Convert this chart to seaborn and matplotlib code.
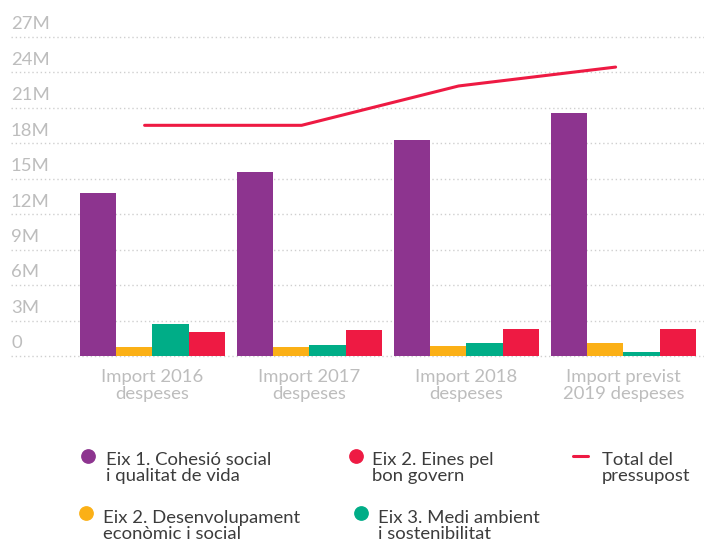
import numpy as np
import pandas as pd
import matplotlib
matplotlib.use("Agg")
import matplotlib.pyplot as plt
from matplotlib.lines import Line2D
import seaborn as sns

# ---- data ----
categories = ["Import 2016\ndespeses", "Import 2017\ndespeses",
              "Import 2018\ndespeses", "Import previst\n2019 despeses"]
series_names = ["Eix 1. Cohesió social\ni qualitat de vida",
                "Eix 2. Desenvolupament\neconòmic i social",
                "Eix 3. Medi ambient\ni sostenibilitat",
                "Eix 2. Eines pel\nbon govern"]
eix1_cohesio = [13.8e6, 15.55e6, 18.25e6, 20.55e6]
eix2_desenvolupament = [0.74e6, 0.74e6, 0.82e6, 1.07e6]
eix3_medi = [2.7e6, 0.9e6, 1.07e6, 0.31e6]
eix2_eines = [2.0e6, 2.18e6, 2.26e6, 2.26e6]
total_label = "Total del\npressupost"
total_pressupost = [19.52e6, 19.52e6, 22.85e6, 24.45e6]
ytick_values = [0, 3e6, 6e6, 9e6, 12e6, 15e6, 18e6, 21e6, 24e6, 27e6]
ytick_labels = ["0", "3M", "6M", "9M", "12M", "15M", "18M", "21M", "24M", "27M"]

colors = ["#8D348F", "#FBB016", "#00AD87", "#EE1A43"]
line_color = "#EE1A43"
FS = 13.3

df = pd.DataFrame({
    "cat": np.repeat(categories, 4),
    "serie": series_names * 4,
    "value": np.array([eix1_cohesio, eix2_desenvolupament, eix3_medi, eix2_eines]).T.ravel(),
})

sns.set_theme(style="white")
plt.rcParams["font.family"] = ["Lato", "DejaVu Sans"]

W, H = 704, 543
fig = plt.figure(figsize=(W / 100, H / 100), dpi=100)
ax = fig.add_axes([11 / W, 1 - 359.5 / H, 1 - 11 / W, (359.5 - 33.4) / H])

sns.barplot(data=df, x="cat", y="value", hue="serie", hue_order=series_names,
            order=categories, palette=colors, width=0.925, gap=0, ax=ax,
            saturation=1, legend=False, edgecolor="none", linewidth=0, errorbar=None)

xpos = np.arange(len(categories)) - 0.05
sns.lineplot(x=xpos, y=total_pressupost, color=line_color, linewidth=2.2, ax=ax)

ax.set_xlim(-0.901, 3.513)
ax.set_ylim(-0.3e6, 27.3e6)
ax.set_yticks(ytick_values)
ax.set_yticklabels([])
ax.tick_params(axis="y", length=0)
ax.grid(axis="y", color="#cfcfcf", linestyle=(0, (1, 2)), linewidth=1)
ax.set_axisbelow(True)
for s in ax.spines.values():
    s.set_visible(False)

for v, lab in zip(ytick_values, ytick_labels):
    ax.annotate(lab, xy=(0, v), xycoords=("axes fraction", "data"),
                xytext=(0, 5.5), textcoords="offset points",
                ha="left", va="baseline", fontsize=FS, color="#bdbdbd")

ax.set_xlabel("")
ax.set_ylabel("")
ax.tick_params(axis="x", length=0, pad=6.5, labelsize=FS, labelcolor="#bdbdbd")
for t in ax.get_xticklabels():
    t.set_linespacing(1.12)

# ---- legend (manual layout) ----
text_color = "#3c3c3c"
LINE_STEP = 17.5  # px between the two lines of a legend label
entries = [
    # (handle kind, colour, label, marker x, marker y, text x, first-line baseline y)
    ("o", colors[0], series_names[0], 88, 455.5, 106, 464),
    ("o", colors[1], series_names[1], 86, 513, 103.5, 521.5),
    ("o", colors[3], series_names[3], 356, 455.5, 372.3, 464),
    ("o", colors[2], series_names[2], 361, 513, 377.7, 521.5),
    ("-", line_color, total_label, None, 455.5, 602, 464),
]
for kind, c, lab, mx, my, tx, ty in entries:
    if kind == "o":
        fig.add_artist(Line2D([mx / W], [1 - my / H], transform=fig.transFigure,
                              marker="o", markersize=9.6, linestyle="none",
                              markerfacecolor=c, markeredgecolor=c))
    else:
        fig.add_artist(Line2D([572.5 / W, 588 / W], [1 - my / H, 1 - my / H],
                              transform=fig.transFigure, color=c, linewidth=2.2))
    fig.text(tx / W, 1 - (ty + LINE_STEP) / H, lab, ha="left", va="baseline",
             fontsize=FS, color=text_color, linespacing=1.02)

fig.savefig("out.png", dpi=100)
